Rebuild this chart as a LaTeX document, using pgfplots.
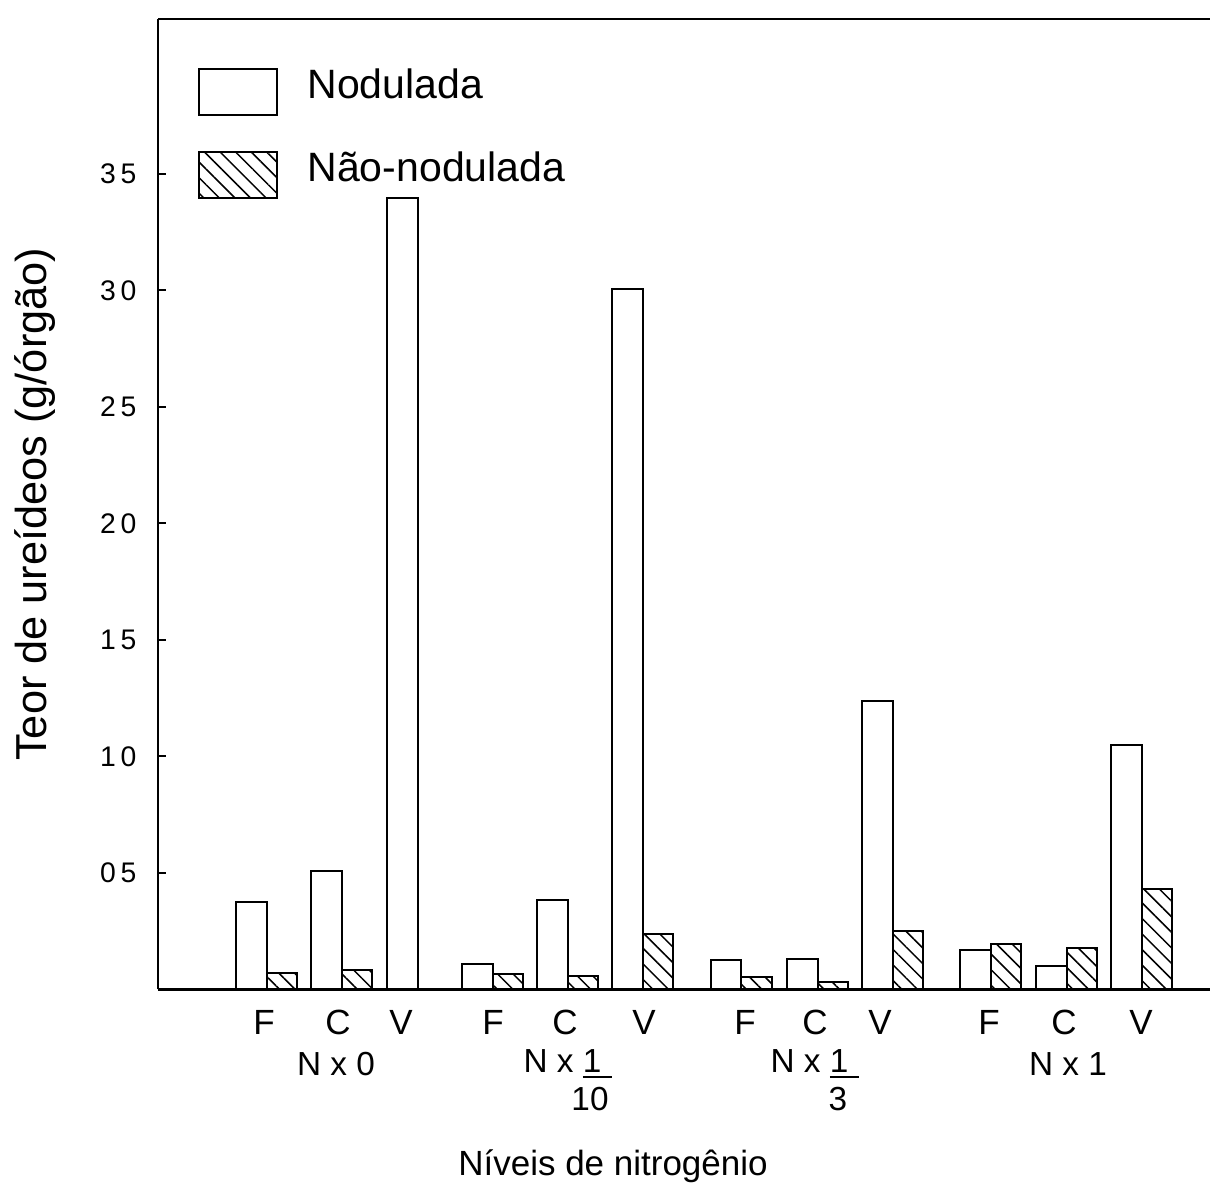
\documentclass[border=0pt]{standalone}
\usepackage{fontspec}
\setmainfont{Liberation Sans}
\usepackage{pgfplots}
\pgfplotsset{compat=1.18}
\usetikzlibrary{patterns.meta}

\begin{document}
\begin{tikzpicture}[x=1pt,y=1pt]
\begin{axis}[
  at={(0,0)}, anchor=south west,
  scale only axis, width=315.6pt, height=291.15pt,
  xmin=158, xmax=1210, ymin=0, ymax=41.65,
  axis lines=left, axis line style={-, line width=0.8pt},
  clip=false,
  ytick={5,10,...,35},
  yticklabels={0\,5,1\,0,1\,5,2\,0,2\,5,3\,0,3\,5},
  y tick label style={font=\fontsize{8.5}{10}\selectfont, anchor=east, inner sep=0pt, xshift=-6.3pt},
  tick align=inside,
  y tick style={line width=0.6pt, black},
  major tick length=2.4pt,
  xtick={264,338,401,493,565,644,745,815,880,989,1064,1141},
  xticklabels={F,C,V,F,C,V,F,C,V,F,C,V},
  x tick style={draw=none},
  x tick label style={font=\fontsize{10.5}{12}\selectfont, anchor=north, inner sep=0pt, yshift=-6.0pt},
  xlabel={N\'iveis de nitrog\^enio},
  xlabel style={at={(axis cs:613,-7.58)}, anchor=center, inner sep=0pt, font=\fontsize{10.5}{12}\selectfont},
  legend style={at={(rel axis cs:0.037,0.9505)}, anchor=north west, draw=none, fill=none,
    inner sep=0pt, column sep=9pt, row sep=10.5pt, font=\fontsize{12.3}{14}\selectfont,
    nodes={inner sep=0pt}},
  legend cell align=left,
]
\addplot[ybar, bar width=30.5, bar shift=0pt, draw=black, line width=0.6pt, fill=white,
  legend image code/.code={\draw[black, line width=0.6pt, fill=white] (0pt,-8.6pt) rectangle (23.4pt,5.2pt);}]
  coordinates {(251.5,3.76) (326.5,5.08) (402.5,33.95) (477.5,1.10) (552.5,3.82) (627.5,30.05)
               (726,1.28) (802.5,1.30) (877.5,12.4) (975.5,1.70) (1051.5,1.00) (1126.5,10.5)};
\addlegendentry{Nodulada}
\addplot[ybar, bar width=30.5, bar shift=0pt, draw=black, line width=0.6pt,
  pattern={Lines[angle=-45,distance=3.3pt,line width=0.45pt]},
  legend image code/.code={\draw[black, line width=0.6pt, pattern={Lines[angle=-45,distance=3.3pt,line width=0.45pt]}] (0pt,-8.6pt) rectangle (23.4pt,5.2pt);}]
  coordinates {(282,0.71) (357,0.82) (508,0.67) (583,0.57) (658,2.40)
               (756.5,0.55) (833,0.33) (908,2.50) (1006,1.97) (1082,1.76) (1157,4.30)};
\addlegendentry{N\~ao-nodulada}
\draw[line width=0.8pt] (rel axis cs:0,1) -- (rel axis cs:1,1);
\node[rotate=90, anchor=center, font=\fontsize{13}{15}\selectfont] at (rel axis cs:-0.1169,0.5) {Teor de ure\'ideos (g/\'org\~ao)};
\node[anchor=center, inner sep=1pt, font=\fontsize{10}{12}\selectfont] at (axis cs:336,-3.2) {N x 0};
\node[anchor=center, inner sep=1pt, font=\fontsize{10}{12}\selectfont] at (axis cs:568,-3.2) {N x \underline{1\,\,}};
\node[anchor=center, inner sep=1pt, font=\fontsize{10}{12}\selectfont] at (axis cs:590,-4.7) {10};
\node[anchor=center, inner sep=1pt, font=\fontsize{10}{12}\selectfont] at (axis cs:815,-3.2) {N x \underline{1\,\,}};
\node[anchor=center, inner sep=1pt, font=\fontsize{10}{12}\selectfont] at (axis cs:838,-4.7) {3};
\node[anchor=center, inner sep=1pt, font=\fontsize{10}{12}\selectfont] at (axis cs:1068,-3.2) {N x 1};
\end{axis}
\pgfresetboundingbox
\useasboundingbox (-47.4,-60.75) rectangle (315.6,296.85);
\end{tikzpicture}
\end{document}
